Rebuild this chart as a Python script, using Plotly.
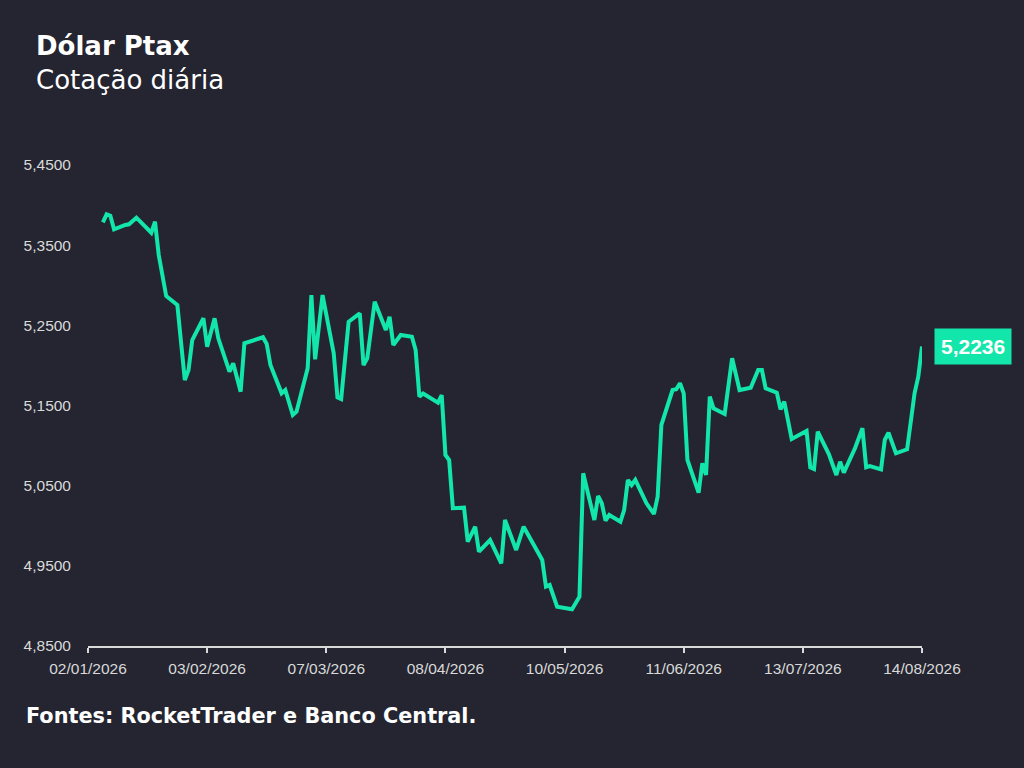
import plotly.graph_objects as go

# Dólar Ptax, cotação diária
datas = [
    "2026-01-06", "2026-01-07", "2026-01-08", "2026-01-09", "2026-01-12", "2026-01-13",
    "2026-01-15", "2026-01-19", "2026-01-20", "2026-01-21", "2026-01-23", "2026-01-26",
    "2026-01-28", "2026-01-29", "2026-01-30", "2026-02-02", "2026-02-03", "2026-02-05",
    "2026-02-06", "2026-02-09", "2026-02-10", "2026-02-12", "2026-02-13", "2026-02-18",
    "2026-02-19", "2026-02-20", "2026-02-23", "2026-02-24", "2026-02-26", "2026-02-27",
    "2026-03-02", "2026-03-03", "2026-03-04", "2026-03-06", "2026-03-09", "2026-03-10",
    "2026-03-11", "2026-03-13", "2026-03-16", "2026-03-17", "2026-03-18", "2026-03-20",
    "2026-03-23", "2026-03-24", "2026-03-25", "2026-03-27", "2026-03-30", "2026-03-31",
    "2026-04-01", "2026-04-02", "2026-04-06", "2026-04-07", "2026-04-08", "2026-04-09",
    "2026-04-10", "2026-04-13", "2026-04-14", "2026-04-16", "2026-04-17", "2026-04-20",
    "2026-04-23", "2026-04-24", "2026-04-27", "2026-04-29", "2026-05-04", "2026-05-05",
    "2026-05-06", "2026-05-08", "2026-05-12", "2026-05-13", "2026-05-14", "2026-05-15",
    "2026-05-18", "2026-05-19", "2026-05-20", "2026-05-21", "2026-05-22", "2026-05-25",
    "2026-05-26", "2026-05-27", "2026-05-28", "2026-05-29", "2026-06-01", "2026-06-03",
    "2026-06-04", "2026-06-05", "2026-06-08", "2026-06-09", "2026-06-10", "2026-06-11",
    "2026-06-12", "2026-06-15", "2026-06-16", "2026-06-17", "2026-06-18", "2026-06-19",
    "2026-06-22", "2026-06-24", "2026-06-26", "2026-06-29", "2026-07-01", "2026-07-02",
    "2026-07-03", "2026-07-06", "2026-07-07", "2026-07-08", "2026-07-10", "2026-07-14",
    "2026-07-15", "2026-07-16", "2026-07-17", "2026-07-20", "2026-07-22", "2026-07-23",
    "2026-07-24", "2026-07-27", "2026-07-29", "2026-07-30", "2026-07-31", "2026-08-03",
    "2026-08-04", "2026-08-05", "2026-08-07", "2026-08-10", "2026-08-12", "2026-08-13",
    "2026-08-14",
]
cotacao = [
    5.3785, 5.3885, 5.3868, 5.3698, 5.3752, 5.3760,
    5.3843, 5.3655, 5.3793, 5.3377, 5.2866, 5.2754,
    5.1818, 5.1943, 5.2317, 5.2588, 5.2233, 5.2588,
    5.2338, 5.1922, 5.2026, 5.1672, 5.2276, 5.2351,
    5.2267, 5.2005, 5.1652, 5.1693, 5.1382, 5.1423,
    5.1964, 5.2878, 5.2076, 5.2878, 5.2151, 5.1602,
    5.1581, 5.2545, 5.2650, 5.2005, 5.2089, 5.2795,
    5.2442, 5.2608, 5.2255, 5.2379, 5.2358, 5.2192,
    5.1610, 5.1650, 5.1535, 5.1631, 5.0883, 5.0820,
    5.0218, 5.0225, 4.9801, 4.9988, 4.9676, 4.9822,
    4.9532, 5.0072, 4.9698, 4.9988, 4.9573, 4.9240,
    4.9261, 4.8990, 4.8958, 4.9033, 4.9115, 5.0654,
    5.0072, 5.0371, 5.0280, 5.0063, 5.0134, 5.0050,
    5.0196, 5.0571, 5.0508, 5.0571, 5.0280, 5.0147,
    5.0362, 5.1257, 5.1693, 5.1702, 5.1777, 5.1652,
    5.0820, 5.0412, 5.0779, 5.0633, 5.1610, 5.1465,
    5.1394, 5.2089, 5.1693, 5.1722, 5.1943, 5.1943,
    5.1715, 5.1660, 5.1453, 5.1547, 5.1082, 5.1182,
    5.0729, 5.0708, 5.1173, 5.0891, 5.0633, 5.0799,
    5.0662, 5.0966, 5.1216, 5.0729, 5.0745, 5.0704,
    5.1070, 5.1161, 5.0904, 5.0954, 5.1652, 5.1859,
    5.2236,
]
ticks_x = ["2026-01-02", "2026-02-03", "2026-03-07", "2026-04-08",
           "2026-05-10", "2026-06-11", "2026-07-13", "2026-08-14"]
ticks_y = [4.85, 4.95, 5.05, 5.15, 5.25, 5.35, 5.45]

bg = "#242530"
verde = "#13e6aa"
cinza = "#d9d9d9"
fonte_titulo = "DejaVu Sans, Open Sans"

fig = go.Figure()
fig.add_trace(go.Scatter(
    x=datas, y=cotacao, mode="lines",
    line=dict(color=verde, width=4),
    hoverinfo="x+y",
))

ultimo = f"{cotacao[-1]:.4f}".replace(".", ",")
fig.add_annotation(
    x=datas[-1], y=cotacao[-1], xref="x", yref="y",
    text=f"<b>{ultimo}</b>", showarrow=False,
    xanchor="left", xshift=12, yanchor="middle",
    bgcolor=verde, borderpad=6,
    font=dict(family="Liberation Sans, Arial", size=21, color="white"),
)

# títulos e fonte
fig.add_annotation(
    x=-0.0647, y=1.2115, xref="paper", yref="paper",
    text="<b>Dólar Ptax</b><br>Cotação diária", showarrow=False,
    xanchor="left", yanchor="middle", align="left",
    font=dict(family=fonte_titulo, size=26, color="white"),
)
fig.add_annotation(
    x=-0.0767, y=-0.1455, xref="paper", yref="paper",
    text="<b>Fontes: RocketTrader e Banco Central.</b>", showarrow=False,
    xanchor="left", yanchor="middle",
    font=dict(family=fonte_titulo, size=20.8, color="white"),
)

fig.update_layout(
    width=1024, height=768,
    paper_bgcolor=bg, plot_bgcolor=bg,
    margin=dict(l=88, r=102, t=165, b=122),
    showlegend=False,
    separators=",.",
    font=dict(family="Liberation Sans, Arial", color=cinza),
)
fig.update_xaxes(
    type="date", range=["2026-01-02", "2026-08-14"],
    tickvals=ticks_x, tickformat="%d/%m/%Y",
    showgrid=False, zeroline=False,
    showline=True, linecolor=cinza, linewidth=1.5,
    ticks="outside", ticklen=5, tickcolor=cinza, tickwidth=1.5,
    ticklabelstandoff=3,
    tickfont=dict(size=15.5, color=cinza),
)
fig.update_yaxes(
    range=[4.85, 5.45], tickvals=ticks_y, tickformat=".4f",
    showgrid=False, zeroline=False, showline=False,
    ticklabelstandoff=16,
    tickfont=dict(size=15.5, color=cinza),
)

fig.write_html("out.html", config={"displayModeBar": False},
               post_script="document.body.style.margin='0';")
